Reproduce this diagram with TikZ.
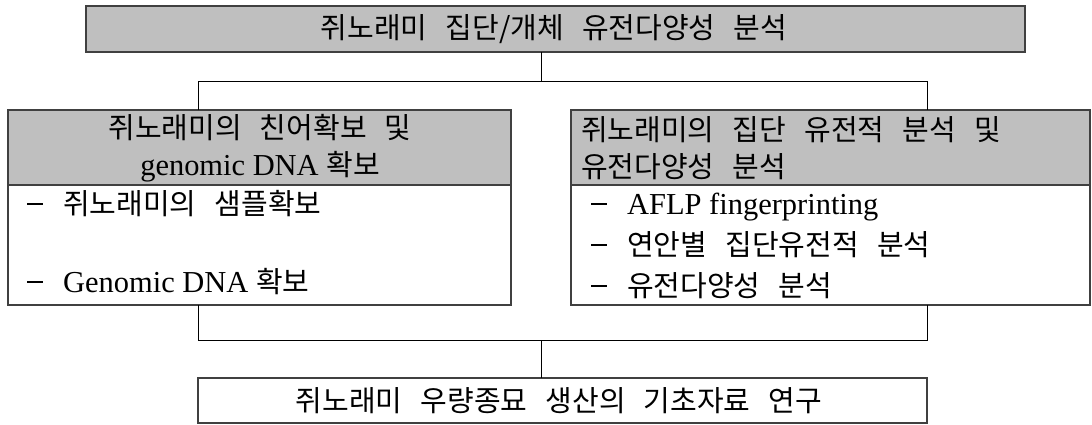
\documentclass[tikz,border=0pt]{standalone}
\usepackage{fontspec}
\setmainfont[Scale=1.05]{Liberation Serif}
\newfontfamily\ko[WordSpace=2.8]{Noto Sans CJK KR}
\newcommand\dsh{\makebox[36pt][l]{\rule[9pt]{16pt}{2pt}}}
\begin{document}
\begin{tikzpicture}[x=1pt,y=-1pt,
  box/.style={draw=black!75,line width=1.3pt,inner sep=0pt,outer sep=0pt},
  graybox/.style={box,fill=black!25},
  conn/.style={draw=black,line width=0.9pt},
  txt/.style={inner sep=0pt,font=\fontsize{29}{37}\selectfont,text=black},
  item/.style={txt,anchor=west,text height=25pt,text depth=7pt}]
\useasboundingbox (0,0) rectangle (1092,424);
% boxes
\node[graybox,minimum width=939pt,minimum height=46pt] (top) at (555.5,29) {};
\node[graybox,minimum width=503pt,minimum height=75pt] (lh) at (259.5,147.5) {};
\node[box,minimum width=503pt,minimum height=120pt] (lb) at (259.5,245) {};
\node[graybox,minimum width=519pt,minimum height=75pt] (rh) at (830.5,147.5) {};
\node[box,minimum width=519pt,minimum height=120pt] (rb) at (830.5,245) {};
\node[box,fill=white,minimum width=729pt,minimum height=45pt] (bot) at (562.5,400.5) {};
% texts
\node[txt] (ttop) at (554,29) {\ko 쥐노래미 집단/개체 유전다양성 분석};
\node[txt,align=center] (tlh) at (260,148) {{\ko 쥐노래미의 친어확보 및}\\genomic DNA {\ko 확보}};
\node[txt,align=left,anchor=west] (trh) at (581,148) {{\ko 쥐노래미의 집단 유전적 분석 및}\\{\ko 유전다양성 분석}};
\node[item] (tl1) at (27,205) {\dsh{\ko 쥐노래미의 샘플확보}};
\node[item] (tl2) at (27,283) {\dsh Genomic DNA {\ko 확보}};
\node[item] (tr1) at (591,205) {\dsh AFLP fingerprinting};
\node[item] (tr2) at (591,246) {\dsh{\ko 연안별 집단유전적 분석}};
\node[item] (tr3) at (591,287) {\dsh{\ko 유전다양성 분석}};
\node[txt] (tbot) at (559,400.5) {\ko 쥐노래미 우량종묘 생산의 기초자료 연구};
% junction coordinates
\coordinate (j1) at (541,81);
\coordinate (a1) at (198,81);
\coordinate (a2) at (927,81);
\coordinate (b1) at (198,340);
\coordinate (b2) at (927,340);
\coordinate (j2) at (541,340);
% connectors
\draw[conn] (top.south -| j1) -- (j1);
\draw[conn] (lh.north -| a1) -- (a1) -- (a2) -- (rh.north -| a2);
\draw[conn] (lb.south -| b1) -- (b1) -- (b2) -- (rb.south -| b2);
\draw[conn] (j2) -- (bot.north -| j2);
\end{tikzpicture}
\end{document}
